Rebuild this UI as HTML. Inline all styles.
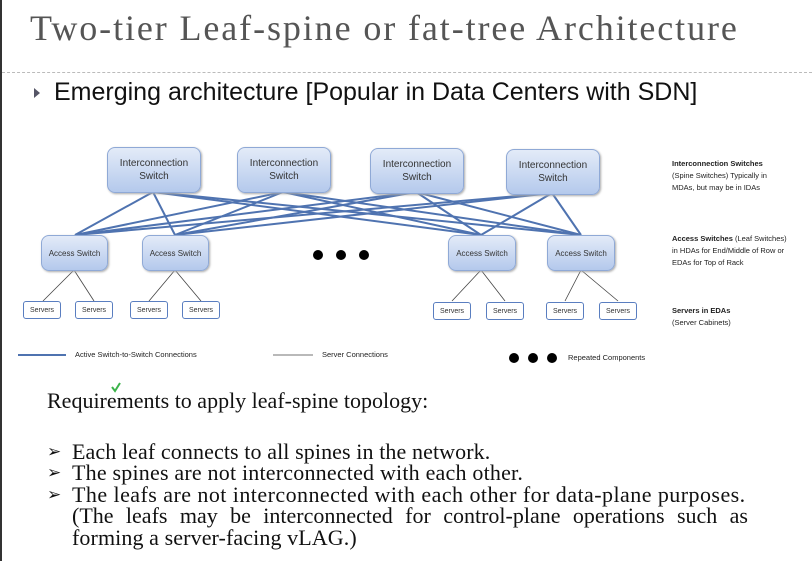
<!DOCTYPE html>
<html><head><style>
body{margin:0;width:812px;height:561px;background:#fff;overflow:hidden;position:relative;font-family:"Liberation Sans",sans-serif}
.t{position:absolute;white-space:nowrap}
.sp{position:absolute;border:1px solid #8fa9d6;border-radius:8px;background:linear-gradient(#e3ebf8,#b4c9ec);box-shadow:1px 1px 2px #aaa;font-size:10px;color:#333;text-align:center;line-height:13px;display:flex;align-items:center;justify-content:center}
.lf{font-size:8px}
.sv{position:absolute;border:1.5px solid #5a7ec0;border-radius:3px;background:#fff;font-size:7px;color:#333;display:flex;align-items:center;justify-content:center;height:16px;width:36px}
.r{font-family:"Liberation Serif",serif;font-size:22px;color:#111;position:absolute;letter-spacing:0.1px;white-space:nowrap}
.a{position:absolute;left:47px;font-size:17px;color:#111;font-family:"DejaVu Sans",sans-serif}
</style></head><body>
<div style="position:absolute;left:0;top:0;width:2px;height:561px;background:#333"></div>
<div class="t" style="left:30px;top:7px;font-family:'Liberation Serif',serif;font-size:36px;letter-spacing:1.9px;color:#555">Two-tier Leaf-spine or fat-tree Architecture</div>
<div style="position:absolute;left:2px;right:0;top:72px;border-top:1px dashed #bbb"></div>
<div class="t" style="left:34px;top:88px;width:0;height:0;border-left:6px solid #556;border-top:5px solid transparent;border-bottom:5px solid transparent"></div>
<div class="t" style="left:54px;top:78px;font-size:25px;color:#111;letter-spacing:0px">Emerging architecture [Popular in Data Centers with SDN]</div>
<svg style="position:absolute;left:0;top:0" width="812" height="561">
<g stroke="#4f73b0" stroke-width="2" fill="none">
<line x1="153" y1="192" x2="75" y2="235"/><line x1="153" y1="192" x2="175" y2="235"/><line x1="153" y1="192" x2="481" y2="235"/><line x1="153" y1="192" x2="581" y2="235"/>
<line x1="283" y1="192" x2="75" y2="235"/><line x1="283" y1="192" x2="175" y2="235"/><line x1="283" y1="192" x2="481" y2="235"/><line x1="283" y1="192" x2="581" y2="235"/>
<line x1="416" y1="192" x2="75" y2="235"/><line x1="416" y1="192" x2="175" y2="235"/><line x1="416" y1="192" x2="481" y2="235"/><line x1="416" y1="192" x2="581" y2="235"/>
<line x1="552" y1="193" x2="75" y2="235"/><line x1="552" y1="193" x2="175" y2="235"/><line x1="552" y1="193" x2="481" y2="235"/><line x1="552" y1="193" x2="581" y2="235"/>
<line x1="18" y1="355" x2="66" y2="355"/>
</g>
<g stroke="#444" stroke-width="0.8">
<line x1="74" y1="270" x2="43" y2="301"/><line x1="74" y1="270" x2="94" y2="301"/>
<line x1="175" y1="270" x2="149" y2="301"/><line x1="175" y1="270" x2="201" y2="301"/>
<line x1="481" y1="270" x2="452" y2="301"/><line x1="481" y1="270" x2="505" y2="301"/>
<line x1="581" y1="270" x2="565" y2="301"/><line x1="581" y1="270" x2="618" y2="301"/>
<line x1="273" y1="355" x2="313" y2="355"/>
</g>
<g fill="#000"><circle cx="318" cy="255" r="5"/><circle cx="341" cy="255" r="5"/><circle cx="364" cy="255" r="5"/>
<circle cx="514" cy="358" r="5"/><circle cx="533" cy="358" r="5"/><circle cx="552" cy="358" r="5"/></g>
<path d="M112 387 l3 4 l5 -8" stroke="#3bb34a" stroke-width="2" fill="none"/>
</svg>
<div class="sp" style="left:107px;top:147px;width:92px;height:44px">Interconnection<br>Switch</div>
<div class="sp" style="left:237px;top:147px;width:92px;height:44px">Interconnection<br>Switch</div>
<div class="sp" style="left:370px;top:148px;width:92px;height:44px">Interconnection<br>Switch</div>
<div class="sp" style="left:506px;top:149px;width:92px;height:44px">Interconnection<br>Switch</div>
<div class="sp lf" style="left:41px;top:235px;width:65px;height:34px">Access Switch</div>
<div class="sp lf" style="left:142px;top:235px;width:65px;height:34px">Access Switch</div>
<div class="sp lf" style="left:448px;top:235px;width:66px;height:34px">Access Switch</div>
<div class="sp lf" style="left:547px;top:235px;width:66px;height:34px">Access Switch</div>
<div class="sv" style="left:23px;top:301px">Servers</div>
<div class="sv" style="left:75px;top:301px">Servers</div>
<div class="sv" style="left:130px;top:301px">Servers</div>
<div class="sv" style="left:182px;top:301px">Servers</div>
<div class="sv" style="left:433px;top:302px">Servers</div>
<div class="sv" style="left:486px;top:302px">Servers</div>
<div class="sv" style="left:546px;top:302px">Servers</div>
<div class="sv" style="left:599px;top:302px">Servers</div>
<div class="t" style="left:672px;top:158px;font-size:7.5px;line-height:12px;color:#222"><b>Interconnection Switches</b><br>(Spine Switches) Typically in<br>MDAs, but may be in IDAs</div>
<div class="t" style="left:672px;top:233px;font-size:7.5px;line-height:12px;color:#222"><b>Access Switches</b> (Leaf Switches)<br>in HDAs for End/Middle of Row or<br>EDAs for Top of Rack</div>
<div class="t" style="left:672px;top:305px;font-size:7.5px;line-height:12px;color:#222"><b>Servers in EDAs</b><br>(Server Cabinets)</div>
<div class="t" style="left:75px;top:350px;font-size:7.5px;color:#222">Active Switch-to-Switch Connections</div>
<div class="t" style="left:322px;top:350px;font-size:7.5px;color:#222">Server Connections</div>
<div class="t" style="left:568px;top:353px;font-size:7.5px;color:#222">Repeated Components</div>
<div class="r" style="left:47px;top:388px;letter-spacing:0">Requirements to apply leaf-spine topology:</div>
<div class="a" style="top:442px">➢</div><div class="r" style="left:72px;top:439px">Each leaf connects to all spines in the network.</div>
<div class="a" style="top:463px">➢</div><div class="r" style="left:72px;top:460px;letter-spacing:0.2px">The spines are not interconnected with each other.</div>
<div class="a" style="top:485px">➢</div><div class="r" style="left:72px;top:482px;letter-spacing:0.45px">The leafs are not interconnected with each other for data-plane purposes.</div>
<div class="r" style="left:72px;top:503px;width:676px;text-align:justify;text-align-last:justify;white-space:normal;letter-spacing:0">(The leafs may be interconnected for control-plane operations such as</div>
<div class="r" style="left:72px;top:525px">forming a server-facing vLAG.)</div>
</body></html>
